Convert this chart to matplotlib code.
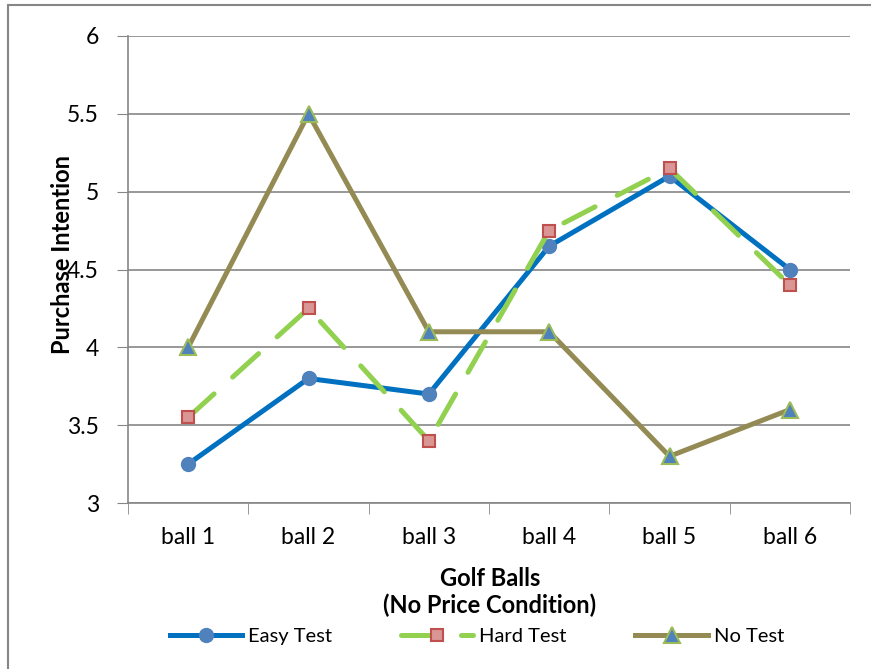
import matplotlib
matplotlib.use("Agg")
from matplotlib import pyplot as plt
from matplotlib.patches import Rectangle

plt.rcParams['font.family'] = ['Lato', 'DejaVu Sans']

balls = ["ball 1", "ball 2", "ball 3", "ball 4", "ball 5", "ball 6"]
easy_test = [3.25, 3.8, 3.7, 4.65, 5.1, 4.5]
hard_test = [3.55, 4.25, 3.4, 4.75, 5.15, 4.4]
no_test = [4.0, 5.5, 4.1, 4.1, 3.3, 3.6]

fig = plt.figure(figsize=(8.71, 6.69), dpi=100)
ax = fig.add_axes([128 / 871, 166 / 669, 722 / 871, 467 / 669])

x = list(range(len(balls)))

ax.plot(x, easy_test, color="#0070C0", lw=3.6, marker="o", ms=10,
        mfc="#4F81BD", mec="#4F81BD", label="Easy Test", zorder=3)
hard, = ax.plot(x, hard_test, color="#92D050", lw=3.6, marker="s", ms=8,
                mfc="#DA9694", mec="#C0504D", mew=1.5, label="Hard Test", zorder=4,
                dash_capstyle="round")
hard.set_dashes((7, 5))
ax.plot(x, no_test, color="#948A54", lw=3.6, marker="^", ms=11,
        mfc="#4F81BD", mec="#9BBB59", mew=1.5, label="No Test", zorder=5)

ax.set_xlim(-0.5, 5.5)
ax.set_ylim(3, 6)
ax.set_yticks([3, 3.5, 4, 4.5, 5, 5.5, 6])
ax.set_yticklabels(["3", "3.5", "4", "4.5", "5", "5.5", "6"])
ax.set_xticks(x)
ax.set_xticklabels(balls)
ax.set_xticks([i - 0.5 for i in range(7)], minor=True)
ax.tick_params(axis="x", which="major", length=0, pad=17, labelsize=16.5)
ax.tick_params(axis="x", which="minor", length=8, color="#868686", direction="out")
ax.tick_params(axis="y", length=8, color="#868686", labelsize=16.5, pad=13)
ax.grid(axis="y", color="#868686", lw=1.2)
ax.set_axisbelow(True)
for s in ["top", "right"]:
    ax.spines[s].set_visible(False)
for s in ["left", "bottom"]:
    ax.spines[s].set_color("#868686")
    ax.spines[s].set_linewidth(1.2)

# label sits a bit above the axis middle, as in the original
ax.set_ylabel("Purchase Intention", fontsize=17, fontweight="bold", labelpad=0)
ax.yaxis.set_label_coords(74 / 871, 1 - 254 / 669, transform=fig.transFigure)
ax.set_xlabel("Golf Balls\n(No Price Condition)", fontsize=17, fontweight="bold",
              linespacing=1.2)
ax.xaxis.set_label_coords(490 / 871, 1 - 592 / 669, transform=fig.transFigure)
ax.xaxis.label.set_va("center")

ax.legend(loc="center", bbox_to_anchor=(477 / 871, 1 - 636 / 669), bbox_transform=fig.transFigure,
          ncol=3, frameon=False, fontsize=14.5, handlelength=3.6, columnspacing=3.4,
          handletextpad=0.3, borderpad=0)

fig.patches.append(Rectangle((8 / 871, -0.1), 1, 1.1 - 5 / 669, transform=fig.transFigure,
                             fill=False, ec="#868686", lw=1.5))

fig.savefig("out.png", dpi=100)
